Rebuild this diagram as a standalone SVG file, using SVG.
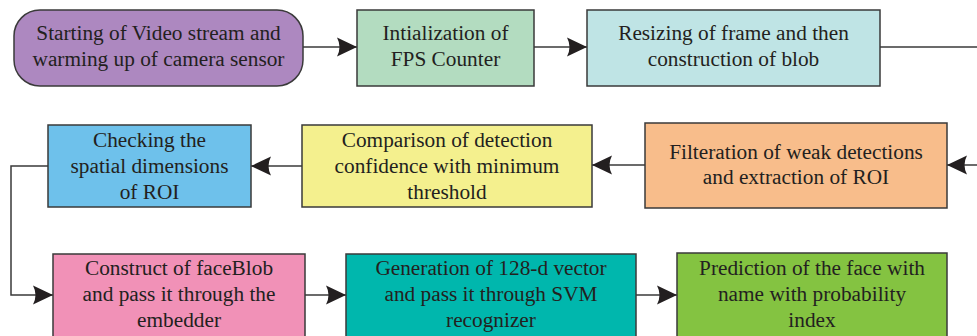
<svg xmlns="http://www.w3.org/2000/svg" width="977" height="336" viewBox="0 0 977 336">
  <style>
    .box { stroke: #3a3a3a; stroke-width: 1.5; }
    .lbl { font-family: "Liberation Serif", "DejaVu Serif", serif; font-size: 21.3px; fill: #231f20; text-anchor: middle; }
    .wire { fill: none; stroke: #3a3a3a; stroke-width: 1.5; }
  </style>
  <defs>
    <marker id="arrow" markerUnits="userSpaceOnUse" markerWidth="20" markerHeight="20" viewBox="0 0 20 20" refX="20" refY="10" orient="auto">
      <path d="M0,0.5 L20,10 L0,19.5 Q5,10 0,0.5 z" fill="#231f20"/>
    </marker>
  </defs>

  <rect width="977" height="336" fill="#ffffff"/>

  <!-- connectors -->
  <g id="connectors">
    <line class="wire" x1="303" y1="47" x2="357" y2="47" marker-end="url(#arrow)"/>
    <line class="wire" x1="534" y1="47" x2="587" y2="47" marker-end="url(#arrow)"/>
    <line class="wire" x1="880" y1="47" x2="977" y2="47"/>
    <line class="wire" x1="977" y1="165" x2="947" y2="165" marker-end="url(#arrow)"/>
    <line class="wire" x1="645" y1="165" x2="592" y2="165" marker-end="url(#arrow)"/>
    <line class="wire" x1="302" y1="166" x2="251" y2="166" marker-end="url(#arrow)"/>
    <polyline class="wire" points="48,166 11,166 11,295 53,295" marker-end="url(#arrow)"/>
    <line class="wire" x1="305" y1="295" x2="346" y2="295" marker-end="url(#arrow)"/>
    <line class="wire" x1="636" y1="295" x2="677" y2="295" marker-end="url(#arrow)"/>
  </g>

  <!-- row 1 -->
  <g id="start">
    <rect class="box" x="14" y="10" width="289" height="76" rx="26" ry="26" fill="#ad88c0"/>
    <text class="lbl" x="158.5" y="40">Starting of Video stream and</text>
    <text class="lbl" x="158.5" y="66">warming up of camera sensor</text>
  </g>
  <g id="fps">
    <rect class="box" x="357" y="10" width="177" height="76" fill="#b3dcc0"/>
    <text class="lbl" x="445.5" y="40">Intialization of</text>
    <text class="lbl" x="445.5" y="66">FPS Counter</text>
  </g>
  <g id="resize">
    <rect class="box" x="587" y="10" width="293" height="76" fill="#bfe4e5"/>
    <text class="lbl" x="733.5" y="40">Resizing of frame and then</text>
    <text class="lbl" x="733.5" y="66">construction of blob</text>
  </g>

  <!-- row 2 -->
  <g id="filter">
    <rect class="box" x="645" y="123" width="302" height="85" fill="#f8bd8b"/>
    <text class="lbl" x="796" y="159">Filteration of weak detections</text>
    <text class="lbl" x="796" y="184">and extraction of ROI</text>
  </g>
  <g id="compare">
    <rect class="box" x="302" y="125" width="290" height="82" fill="#f4f08e"/>
    <text class="lbl" x="447" y="147">Comparison of detection</text>
    <text class="lbl" x="447" y="173">confidence with minimum</text>
    <text class="lbl" x="447" y="199">threshold</text>
  </g>
  <g id="check">
    <rect class="box" x="48" y="125" width="203" height="82" fill="#6ec1eb"/>
    <text class="lbl" x="149.5" y="147">Checking the</text>
    <text class="lbl" x="149.5" y="173">spatial dimensions</text>
    <text class="lbl" x="149.5" y="199">of ROI</text>
  </g>

  <!-- row 3 -->
  <g id="faceblob">
    <rect class="box" x="53" y="254" width="252" height="90" fill="#f191b7"/>
    <text class="lbl" x="179" y="275">Construct of faceBlob</text>
    <text class="lbl" x="179" y="301">and pass it through the</text>
    <text class="lbl" x="179" y="327">embedder</text>
  </g>
  <g id="vector">
    <rect class="box" x="346" y="254" width="290" height="90" fill="#00b7ad"/>
    <text class="lbl" x="491" y="275">Generation of 128-d vector</text>
    <text class="lbl" x="491" y="301">and pass it through SVM</text>
    <text class="lbl" x="491" y="327">recognizer</text>
  </g>
  <g id="predict">
    <rect class="box" x="677" y="253" width="270" height="91" fill="#84c341"/>
    <text class="lbl" x="812" y="275">Prediction of the face with</text>
    <text class="lbl" x="812" y="301">name with probability</text>
    <text class="lbl" x="812" y="327">index</text>
  </g>
</svg>
